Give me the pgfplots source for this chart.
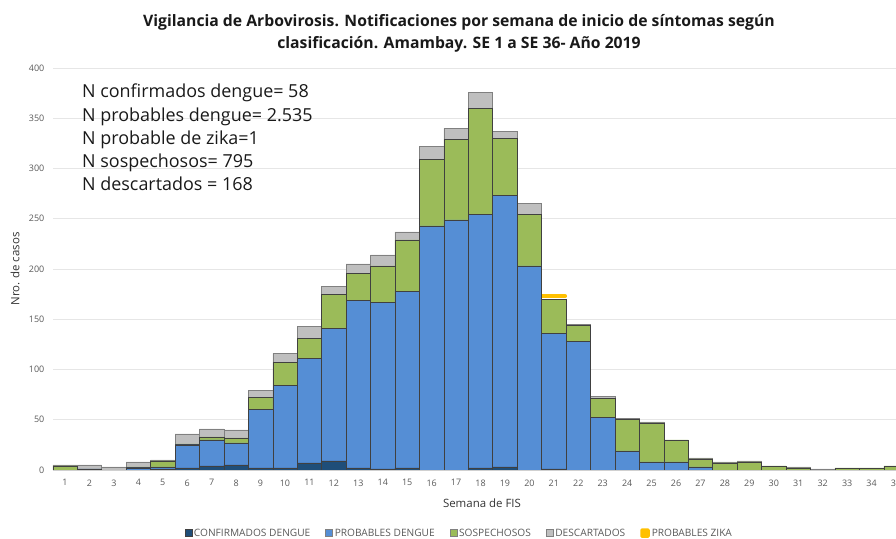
\documentclass[border=0pt]{standalone}
\usepackage{pgfplots}
\usepackage{pgfplotstable}
\pgfplotsset{compat=1.18}
\usepackage{fontspec}
\setmainfont{Open Sans}
\definecolor{conf}{HTML}{1F4E79}
\definecolor{prob}{HTML}{558ED5}
\definecolor{sosp}{HTML}{9BBB59}
\definecolor{desc}{HTML}{BFBFBF}
\definecolor{zika}{HTML}{FFC000}
\definecolor{gridc}{HTML}{E6E6E6}
\definecolor{axisc}{HTML}{D0D0D0}
\definecolor{labc}{HTML}{595959}
\definecolor{edge}{HTML}{404040}
\begin{document}
\begin{tikzpicture}
\pgfplotstableread{
week conf prob sosp desc
1 0 0 4 1
2 1 0 0 4
3 0 0 0 3
4 0 2 1 5
5 1 2 6 1
6 2 23 1 10
7 4 26 3 8
8 5 22 5 8
9 2 58 12 7
10 2 82 23 9
11 7 104 20 12
12 9 132 34 8
13 2 167 27 9
14 1 166 36 11
15 2 176 51 8
16 0 243 66 13
17 0 249 80 11
18 2 252 106 16
19 3 270 57 7
20 0 203 51 11
21 1 135 34 0
22 0 128 16 1
23 0 52 19 2
24 0 19 31 1
25 0 8 39 1
26 0 8 22 0
27 0 3 8 1
28 0 0 7 1
29 0 0 8 1
30 0 0 4 0
31 0 0 2 1
32 0 0 0 1
33 0 0 2 0
34 0 0 2 0
35 0 0 4 0
}\datatable
\begin{axis}[
  at={(52.8bp,69bp)}, anchor=south west,
  scale only axis, width=843.2bp, height=402bp,
  ybar stacked, bar width=1,
  xmin=0.5, xmax=35, ymin=0, ymax=400,
  xtick={1,...,35}, ytick={0,50,...,400},
  ymajorgrids, grid style={draw=gridc, line width=0.8bp},
  axis x line*=bottom, axis y line*=left,
  y axis line style={draw=none},
  x axis line style={draw=axisc, line width=0.8bp, -},
  major tick length=0pt,
  /pgf/number format/assume math mode=true,
  tick label style={font=\fontsize{9}{10}\selectfont, text=labc},
  xticklabel style={yshift=-6bp},
  yticklabel style={xshift=-5bp},
  xlabel={Semana de FIS}, ylabel={Nro. de casos},
  label style={font=\fontsize{11.5}{13}\selectfont, text=black!80},
  x label style={at={(axis description cs:0.509,-0.082)}, anchor=center},
  y label style={at={(axis description cs:-0.0448,0.5)}, anchor=center},
  legend style={at={(0.482,-0.157)}, anchor=center, draw=none, fill=none,
    legend columns=-1, font=\fontsize{10.2}{12}\selectfont, text=labc,
    /tikz/every even column/.append style={column sep=13bp},
    /tikz/every odd column/.append style={column sep=0bp}},
  legend cell align=left,
]
\addplot[fill=conf, draw=edge, line width=0.5bp,
  legend image code/.code={\draw[fill=conf, draw=edge, line width=0.4bp] (0bp,-3.5bp) rectangle (7bp,3.5bp);}]
  table[x=week, y=conf] {\datatable};
\addlegendentry{CONFIRMADOS DENGUE}
\addplot[fill=prob, draw=edge, line width=0.5bp,
  legend image code/.code={\draw[fill=prob, draw=gray, line width=0.4bp] (0bp,-3.5bp) rectangle (7bp,3.5bp);}]
  table[x=week, y=prob] {\datatable};
\addlegendentry{PROBABLES DENGUE}
\addplot[fill=sosp, draw=edge, line width=0.5bp,
  legend image code/.code={\draw[fill=sosp, draw=gray, line width=0.4bp] (0bp,-3.5bp) rectangle (7bp,3.5bp);}]
  table[x=week, y=sosp] {\datatable};
\addlegendentry{SOSPECHOSOS}
\addplot[fill=desc, draw=gray, line width=0.5bp,
  legend image code/.code={\draw[fill=desc, draw=gray, line width=0.4bp] (0bp,-3.5bp) rectangle (7bp,3.5bp);}]
  table[x=week, y=desc] {\datatable};
\addlegendentry{DESCARTADOS}
% probable zika: 1 case in week 21, drawn on top of the 171 cases of that week
\addplot[sharp plot, stack plots=false, draw=zika, line width=4.5bp, line cap=round, mark=none,
  legend image code/.code={\draw[fill=zika, draw=zika, line width=1.5bp, rounded corners=1bp] (0bp,-4bp) rectangle (8bp,4bp);}]
  coordinates {(20.55,173) (21.45,173)};
\addlegendentry{PROBABLES ZIKA}
\end{axis}
\node[font=\fontsize{15.8}{18}\selectfont\bfseries, text=black!90] at (459bp,517bp)
  {Vigilancia de Arbovirosis. Notificaciones por semana de inicio de síntomas según};
\node[font=\fontsize{15.8}{18}\selectfont\bfseries, text=black!90] at (459bp,495bp)
  {clasificación. Amambay. SE 1 a SE 36- Año 2019};
\node[anchor=north west, inner sep=0pt, align=left,
  font=\fontsize{18}{23.2}\selectfont, text=black!90] at (82bp,455bp)
  {N confirmados dengue= 58\\N probables dengue= 2.535\\N probable de zika=1\\N sospechosos= 795\\N descartados = 168};
\pgfresetboundingbox
\useasboundingbox (0,0) rectangle (896bp,539bp);
\end{tikzpicture}
\end{document}
